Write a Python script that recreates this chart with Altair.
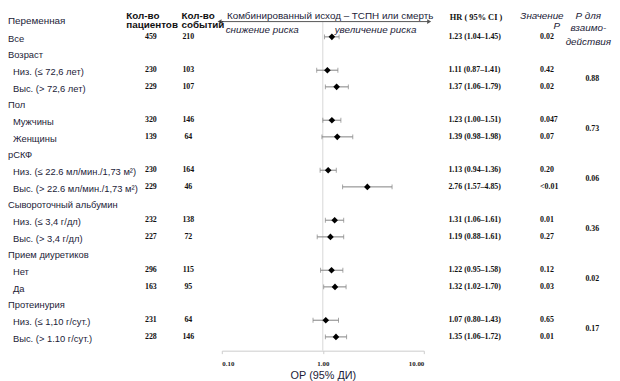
import altair as alt
import pandas as pd

# ---------------- data ----------------
labels = ["Все", "Возраст", "Низ. (≤ 72,6 лет)", "Выс. (> 72,6 лет)",
          "Пол", "Мужчины", "Женщины",
          "рСКФ", "Низ. (≤ 22.6 мл/мин./1,73 м²)", "Выс. (> 22.6 мл/мин./1,73 м²)",
          "Сывороточный альбумин", "Низ. (≤ 3,4 г/дл)", "Выс. (> 3,4 г/дл)",
          "Прием диуретиков", "Нет", "Да",
          "Протеинурия", "Низ. (≤ 1,10 г/сут.)", "Выс. (> 1.10 г/сут.)"]
level = [0, 0, 1, 1, 0, 1, 1, 0, 1, 1, 0, 1, 1, 0, 1, 1, 0, 1, 1]
n_pat = [459, None, 230, 229, None, 320, 139, None, 230, 229, None, 232, 227, None, 296, 163, None, 231, 228]
n_evt = [210, None, 103, 107, None, 146, 64, None, 164, 46, None, 138, 72, None, 115, 95, None, 64, 146]
hr = [1.23, None, 1.11, 1.37, None, 1.23, 1.39, None, 1.13, 2.76, None, 1.31, 1.19, None, 1.22, 1.32, None, 1.07, 1.35]
lo = [1.04, None, 0.87, 1.06, None, 1.00, 0.98, None, 0.94, 1.57, None, 1.06, 0.88, None, 0.95, 1.02, None, 0.80, 1.06]
hi = [1.45, None, 1.41, 1.79, None, 1.51, 1.98, None, 1.36, 4.85, None, 1.61, 1.61, None, 1.58, 1.70, None, 1.43, 1.72]
p_val = ["0.02", None, "0.42", "0.02", None, "0.047", "0.07", None, "0.20", "<0.01", None,
         "0.01", "0.27", None, "0.12", "0.03", None, "0.65", "0.01"]
p_int = ["0.88", "0.73", "0.06", "0.36", "0.02", "0.17"]
x_ticks = [0.1, 1, 10]

# ---------------- tables ----------------
df = pd.DataFrame(dict(row=list(range(len(labels))), label=labels, level=level,
                       n_pat=n_pat, n_evt=n_evt, hr=hr, lo=lo, hi=hi, p=p_val))
dd = df.dropna(subset=["hr"]).copy()
dd["n_pat_t"] = dd["n_pat"].astype(int).astype(str)
dd["n_evt_t"] = dd["n_evt"].astype(int).astype(str)
dd["hr_t"] = [f"{h:.2f} ({a:.2f}–{b:.2f})" for h, a, b in zip(dd.hr, dd.lo, dd.hi)]
group_rows = [i for i in range(len(labels)) if level[i] == 0 and hr[i] is None]
dpi = pd.DataFrame(dict(row=[g + 1.5 for g in group_rows], t=p_int))

SANS = "Liberation Sans"
SERIF = "Liberation Serif"
LAB = "#1c1c38"
NUM = "#111111"

xscale = alt.Scale(type="log", domain=[0.1, 10], range=[217, 422])
xaxis = alt.Axis(values=x_ticks, format=".2f", grid=False, domainColor="#cccccc",
                 tickColor="#cccccc", tickSize=3, labelFont=SERIF, labelFontWeight="bold",
                 labelFontSize=7, labelColor="#222222", labelPadding=6,
                 title="ОР (95% ДИ)", titleFont=SANS, titleFontSize=11,
                 titleFontWeight="normal", titleColor=LAB, titlePadding=3)
yscale = alt.Scale(domain=[0, 18], range=[26.5, 331], nice=False, zero=False)


def X(field=None, datum=None):
    if datum is not None:
        return alt.X(datum=datum, type="quantitative", scale=xscale, axis=xaxis)
    return alt.X(field, type="quantitative", scale=xscale, axis=xaxis)


def Y():
    return alt.Y("row:Q", scale=yscale, axis=None)


one = pd.DataFrame({"k": [0]})


def header(text, x, y, align="left", baseline="top", font=SANS, size=10,
           weight="normal", style="normal", color=LAB):
    return alt.Chart(pd.DataFrame({"t": [text]})).mark_text(
        align=align, baseline=baseline, font=font, fontSize=size,
        fontWeight=weight, fontStyle=style, color=color
    ).encode(x=alt.value(x), y=alt.value(y), text="t:N")


layers = []

# reference line & top arrow
layers.append(alt.Chart(one).mark_rule(color="#d6d6d6", strokeWidth=1).encode(
    x=X(datum=1), y=alt.value(11), y2=alt.value(345)))
layers.append(alt.Chart(one).mark_rule(color="#555555", strokeWidth=1).encode(
    x=X(datum=0.097), x2=alt.X2(datum=11.0), y=alt.value(11)))
layers.append(alt.Chart(one).mark_point(shape="triangle-left", filled=True, size=22,
                                        color="#555555", opacity=1).encode(
    x=X(datum=0.095), y=alt.value(11)))
layers.append(alt.Chart(one).mark_point(shape="triangle-right", filled=True, size=22,
                                        color="#555555", opacity=1).encode(
    x=X(datum=11.3), y=alt.value(11)))

# error bars and points
layers.append(alt.Chart(dd).mark_rule(color="#808080", strokeWidth=1).encode(
    x=X("lo"), x2="hi:Q", y=Y()))
layers.append(alt.Chart(dd).mark_tick(orient="vertical", color="#808080", size=5,
                                      thickness=1).encode(x=X("lo"), y=Y()))
layers.append(alt.Chart(dd).mark_tick(orient="vertical", color="#808080", size=5,
                                      thickness=1).encode(x=X("hi"), y=Y()))
layers.append(alt.Chart(dd).mark_point(shape="diamond", filled=True, color="black",
                                       size=45, opacity=1).encode(x=X("hr"), y=Y()))

# row labels
layers.append(alt.Chart(df[df.level == 0]).mark_text(
    align="left", baseline="middle", dy=2, font=SANS, fontSize=9.5, color=LAB
).encode(x=alt.value(0), y=Y(), text="label:N"))
layers.append(alt.Chart(df[df.level == 1]).mark_text(
    align="left", baseline="middle", dy=2, font=SANS, fontSize=9.5, color=LAB
).encode(x=alt.value(5), y=Y(), text="label:N"))

numstyle = dict(baseline="middle", dy=0, font=SERIF, fontWeight="bold", fontSize=8, color=NUM)
layers.append(alt.Chart(dd).mark_text(align="center", **numstyle).encode(
    x=alt.value(145), y=Y(), text="n_pat_t:N"))
layers.append(alt.Chart(dd).mark_text(align="center", **numstyle).encode(
    x=alt.value(183), y=Y(), text="n_evt_t:N"))
layers.append(alt.Chart(dd).mark_text(align="left", **numstyle).encode(
    x=alt.value(447), y=Y(), text="hr_t:N"))
layers.append(alt.Chart(dd).mark_text(align="left", **numstyle).encode(
    x=alt.value(540), y=Y(), text="p:N"))
layers.append(alt.Chart(dpi).mark_text(align="center", **numstyle).encode(
    x=alt.value(593), y=Y(), text="t:N"))

# headers
hb = dict(weight="bold", size=10, color="#111111")
layers += [
    header("Переменная", 0, 10, baseline="middle"),
    header("Кол-во", 120, 0, **hb),
    header("пациентов", 120, 10, **hb),
    header("Кол-во", 176, 0, **hb),
    header("событий", 176, 10, **hb),
    header("Комбинированный исход – ТСПН или смерть", 327, 0, align="center"),
    header("снижение риска", 258, 20, align="center", baseline="middle", style="italic"),
    header("увеличение риска", 373, 20, align="center", baseline="middle", style="italic"),
    header("HR ( 95% CI )", 475, 6, align="center", baseline="middle", font=SERIF,
           size=8.5, weight="bold", color=NUM),
    header("Значение", 520, 0, style="italic"),
    header("Р", 557, 11, align="center", style="italic"),
    header("Р для", 589, 0, align="center", style="italic"),
    header("взаимо-", 589, 13, align="center", style="italic"),
    header("действия", 589, 27, align="center", style="italic"),
]

chart = alt.layer(*layers).properties(width=604, height=345, padding=0).configure_view(
    stroke=None)

chart.save("out.html", embed_options={"renderer": "svg", "actions": False})
